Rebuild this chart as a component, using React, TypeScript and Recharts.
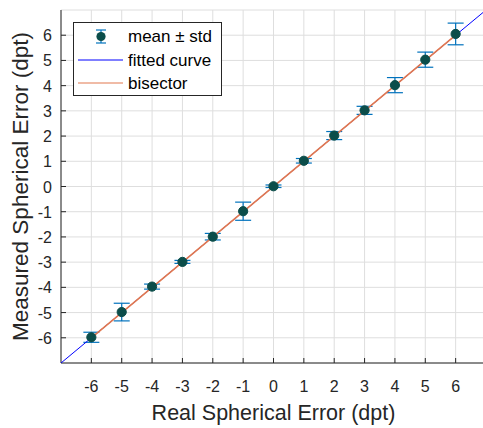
import React from "react";
import {
  ComposedChart,
  Scatter,
  XAxis,
  YAxis,
  CartesianGrid,
  ErrorBar,
  Legend,
  Label,
} from "recharts";

const realError = [-6, -5, -4, -3, -2, -1, 0, 1, 2, 3, 4, 5, 6];
const measuredMean = [-5.98, -4.98, -3.97, -2.99, -1.99, -0.98, 0.01, 1.02, 2.02, 3.02, 4.02, 5.03, 6.05];
const measuredStd = [0.2, 0.35, 0.1, 0.06, 0.13, 0.36, 0.05, 0.09, 0.16, 0.16, 0.3, 0.3, 0.43];
const fittedX = [-7, 7];
const fittedY = [-7, 7];
const bisectorX = [-6, 6];
const bisectorY = [-6, 6];
const axisTicks = [-6, -5, -4, -3, -2, -1, 0, 1, 2, 3, 4, 5, 6];

const points = realError.map((x, i) => ({ x, y: measuredMean[i], std: measuredStd[i] }));
const fitted = fittedX.map((x, i) => ({ x, y: fittedY[i] }));
const bisector = bisectorX.map((x, i) => ({ x, y: bisectorY[i] }));

const FONT = '"Liberation Sans", Arial, sans-serif';
const INK = "#262626";
const MARKER = "#0b4d4a";
const BAR = "#0072BD";
const FIT = "#0000ff";
const BIS = "#e2784f";

const XTick = (props: any) => {
  const { x, y, payload } = props;
  return (
    <g>
      <line x1={x} y1={y} x2={x} y2={y - 5} stroke={INK} strokeWidth={1} />
      <text x={x} y={y + 29} textAnchor="middle" fill={INK} fontSize={16} fontFamily={FONT}>
        {payload.value}
      </text>
    </g>
  );
};

const YTick = (props: any) => {
  const { x, y, payload } = props;
  return (
    <g>
      <line x1={x} y1={y} x2={x + 5} y2={y} stroke={INK} strokeWidth={1} />
      <text x={x - 9} y={y + 6} textAnchor="end" fill={INK} fontSize={16} fontFamily={FONT}>
        {payload.value}
      </text>
    </g>
  );
};

const Dot = (props: any) => {
  const { cx, cy } = props;
  return <circle cx={cx} cy={cy} r={4.6} fill={MARKER} stroke={MARKER} />;
};

const NoDot = () => <g />;

const renderLegend = () => (
  <svg width={150} height={75} style={{ display: "block" }}>
    <rect x={0.5} y={0.5} width={148} height={73} fill="#fff" stroke={INK} strokeWidth={1} />
    <line x1={28} y1={8} x2={28} y2={21} stroke={BAR} strokeWidth={1.2} />
    <line x1={23} y1={8} x2={33} y2={8} stroke={BAR} strokeWidth={1.2} />
    <line x1={23} y1={21} x2={33} y2={21} stroke={BAR} strokeWidth={1.2} />
    <circle cx={28} cy={14.5} r={4.6} fill={MARKER} />
    <text x={55} y={20} fontSize={17} fontFamily={FONT} fill="#000">mean ± std</text>
    <line x1={5} y1={38} x2={50} y2={38} stroke={FIT} strokeWidth={1} />
    <text x={55} y={44} fontSize={17} fontFamily={FONT} fill="#000">fitted curve</text>
    <line x1={5} y1={61} x2={50} y2={61} stroke={BIS} strokeWidth={1.2} />
    <text x={55} y={67} fontSize={17} fontFamily={FONT} fill="#000">bisector</text>
  </svg>
);

export default function App() {
  return (
    <div style={{ position: "absolute", left: 0, top: 0, width: 483, height: 428, overflow: "hidden", background: "#fff" }}>
      <ComposedChart width={490} height={428} margin={{ top: 10, right: 4, bottom: 5, left: 0 }}>
        <CartesianGrid stroke="#dedede" strokeWidth={1} />
        <XAxis
          type="number"
          dataKey="x"
          domain={[-7, 7]}
          ticks={axisTicks}
          allowDataOverflow
          height={60}
          tickSize={0}
          tickMargin={0}
          tick={<XTick />}
          axisLine={{ stroke: INK, strokeWidth: 1 }}
        >
          <Label
            content={(p: any) => {
              const vb = p.viewBox;
              return (
                <text x={vb.x + vb.width / 2} y={vb.y + 57} textAnchor="middle" fill={INK} fontSize={21.5} fontFamily={FONT}>
                  Real Spherical Error (dpt)
                </text>
              );
            }}
          />
        </XAxis>
        <YAxis
          type="number"
          dataKey="y"
          domain={[-7, 7]}
          ticks={axisTicks}
          allowDataOverflow
          width={61}
          tickSize={0}
          tickMargin={0}
          tick={<YTick />}
          axisLine={{ stroke: INK, strokeWidth: 1 }}
        >
          <Label
            content={(p: any) => {
              const vb = p.viewBox;
              const cy = vb.y + vb.height / 2;
              return (
                <text x={28} y={cy} transform={`rotate(-90 28 ${cy})`} textAnchor="middle" fill={INK} fontSize={22.5} fontFamily={FONT}>
                  Measured Spherical Error (dpt)
                </text>
              );
            }}
          />
        </YAxis>
        <Scatter data={fitted} line={{ stroke: FIT, strokeWidth: 1 }} shape={<NoDot />} isAnimationActive={false} legendType="none" />
        <Scatter data={bisector} line={{ stroke: BIS, strokeWidth: 1.6 }} shape={<NoDot />} isAnimationActive={false} legendType="none" />
        <Scatter data={points} shape={<Dot />} isAnimationActive={false}>
          <ErrorBar dataKey="std" direction="y" width={8} stroke={BAR} strokeWidth={1.2} />
        </Scatter>
        <Legend
          layout="vertical"
          align="center"
          verticalAlign="middle"
          content={renderLegend}
          wrapperStyle={{ left: 73, top: 22, width: 150, height: 75 }}
        />
      </ComposedChart>
    </div>
  );
}
